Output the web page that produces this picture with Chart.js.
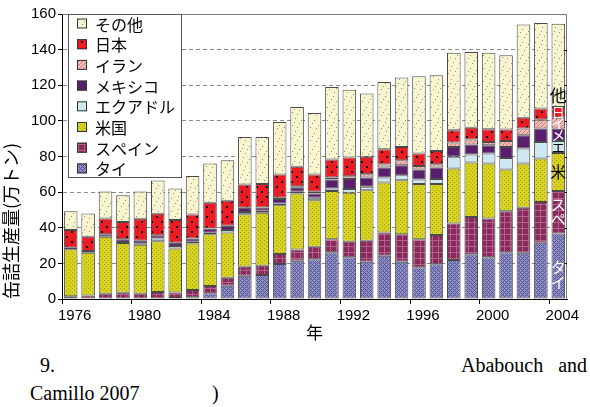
<!DOCTYPE html>
<html lang="ja">
<head>
<meta charset="utf-8">
<script src="https://cdn.jsdelivr.net/npm/chart.js@4.4.0/dist/chart.umd.min.js"></script>
<style>
  body { margin: 0; background: #fff; }
  #wrap { position: relative; width: 590px; height: 407px; }
  #chart { position: absolute; left: 0; top: 0; }
  .cap { position: absolute; font-family: "Liberation Serif", "Times New Roman", serif; font-size: 20px; color: #000; white-space: nowrap; }
</style>
</head>
<body>
<div id="wrap">
  <canvas id="chart" width="590" height="345"></canvas>
  <div class="cap" style="left:40px; top:354px;">9.</div>
  <div class="cap" style="left:461px; top:354px;">Ababouch&nbsp;&nbsp;&nbsp;and</div>
  <div class="cap" style="left:30px; top:382px;">Camillo 2007</div>
  <div class="cap" style="left:212px; top:382px;">)</div>
</div>
<script>
// 缶詰生産量（万トン）by country, 1976-2004
const years = [];
for (let y = 1976; y <= 2004; y++) years.push(String(y));

const thai    = [0, 0, 0, 0, 0, 0, 0.5, 1, 3.2, 7.5, 13.1, 13.5, 19.6, 21.5, 22.3, 26.2, 23.4, 20.9, 24.3, 20.9, 17.8, 19.5, 21.9, 25.1, 23.4, 26.2, 26, 31.6, 36.8];
const spain   = [1.5, 2, 3, 3.5, 3, 4, 3.2, 4, 4.1, 4.4, 5, 5.2, 5.6, 6.3, 7, 7.4, 8.7, 11.8, 13.1, 15.4, 15.8, 16.4, 20.5, 21, 21.8, 23.1, 25.2, 22.9, 23.9];
const usa     = [26.5, 24, 32, 28, 27.5, 28.4, 24.7, 26.2, 29, 25.5, 29.5, 29.7, 27.5, 31.4, 26.2, 27.1, 27.5, 28.4, 28, 30.4, 30.9, 28.6, 30.9, 30.5, 30.9, 23.4, 24.9, 24.4, 21.3];
const ecuador = [0, 0, 0, 0.5, 0.5, 1.5, 1.3, 0.9, 0.9, 1.3, 1.3, 1.1, 0.9, 1, 1.3, 1.3, 2.2, 1.9, 2.8, 2.8, 2.6, 2.8, 6.5, 4.5, 5.6, 6.5, 8.4, 9.3, 6.7];
const mexico  = [0.8, 1, 1.4, 1.5, 1.7, 1.9, 1.9, 1.9, 2.4, 2.4, 2.3, 1.9, 2.5, 2.2, 2.4, 5.1, 5.6, 5.2, 5.6, 5.6, 5.6, 6.5, 5.6, 5.6, 4.6, 6.2, 7.4, 7.5, 7];
const iran    = [0, 0, 0, 0, 0, 0, 0, 0, 0, 0, 0, 0, 0.7, 0.9, 1, 1.1, 1.5, 1.9, 1.7, 2.8, 1.9, 1.9, 2.4, 2.8, 1.9, 3.3, 3.8, 5, 6.1];
const japan   = [10, 8, 8.8, 9.7, 12.3, 12, 12.7, 13.5, 14.4, 14, 13.1, 13.1, 13.1, 10.9, 9.7, 10.1, 10.5, 9.7, 8.6, 7.5, 7.1, 7.4, 6.9, 6.7, 7.1, 6.4, 6.1, 6.2, 6];
const others  = [10.5, 13, 15.2, 15, 15.4, 18.7, 17.7, 21.6, 22.1, 22.8, 26.7, 26.5, 29.5, 33.6, 34.5, 40.7, 38.1, 35.5, 37.7, 38.9, 43.3, 42.5, 43.6, 42.5, 43, 41.7, 52.3, 48, 46.7];

const seriesNames = ["タイ", "スペイン", "米国", "エクアドル", "メキシコ", "イラン", "日本", "その他"];
const shortNames  = ["タイ", "スペ", "米", "エ", "メ", "イ", "日", "他"];
const yTicks = [0, 20, 40, 60, 80, 100, 120, 140, 160];

const JP = '"Noto Sans CJK JP", "Noto Sans", sans-serif';
const LAT = '"Liberation Sans", Arial, sans-serif';

// small tiled fills for the bar textures
function makePattern(w, h, base, paint) {
  const c = document.createElement("canvas");
  c.width = w; c.height = h;
  const g = c.getContext("2d");
  g.fillStyle = base;
  g.fillRect(0, 0, w, h);
  if (paint) paint(g);
  return g.createPattern(c, "repeat");
}
function px(g, color, pts) {
  g.fillStyle = color;
  pts.forEach(p => g.fillRect(p[0], p[1], p[2] || 1, p[3] || 1));
}

const fills = [
  // タイ: fine blue crosshatch
  makePattern(4, 4, "#9090c8", g => {
    const pts = [];
    for (let x = 0; x < 4; x++) for (let y = 0; y < 4; y++) {
      if ((x + y) % 4 === 0 || (x - y + 4) % 4 === 0) pts.push([x, y]);
    }
    px(g, "#55558f", pts);
  }),
  // スペイン: magenta plaid
  makePattern(6, 6, "#8a2a5c", g => {
    px(g, "#b0628a", [[0, 0, 6, 1], [0, 0, 1, 6]]);
  }),
  // 米国: yellow stipple
  makePattern(4, 4, "#d8d31f", g => {
    px(g, "#a39d10", [[0, 0], [2, 2]]);
  }),
  // エクアドル
  "#cde8f0",
  // メキシコ
  "#5a1f6c",
  // イラン: pink diagonal hatch
  makePattern(4, 4, "#f2bcb6", g => {
    px(g, "#d47c7c", [[0, 3], [1, 2], [2, 1], [3, 0]]);
  }),
  // 日本: red with black dots
  makePattern(10, 10, "#ec1c24", g => {
    px(g, "#111", [[1, 1, 2, 2], [6, 6, 2, 2]]);
  }),
  // その他: cream with sparse specks
  makePattern(13, 13, "#f9f6cf", g => {
    px(g, "#8f8c78", [[2, 3], [9, 1], [6, 8], [11, 10], [4, 11], [0, 6], [8, 5]]);
  })
];

const values = [thai, spain, usa, ecuador, mexico, iran, japan, others];

// legend box in the upper-left corner of the plot
const boxLegend = {
  id: "boxLegend",
  afterDatasetsDraw(chart) {
    const { ctx, chartArea } = chart;
    const x0 = chartArea.left + 6, y0 = chartArea.top, w = 114, h = 164;
    ctx.save();
    ctx.fillStyle = "#fff";
    ctx.fillRect(x0, y0, w, h);
    ctx.strokeStyle = "#555";
    ctx.lineWidth = 1;
    ctx.strokeRect(x0 + 0.5, y0 + 0.5, w - 1, h - 1);
    ctx.font = "16px " + JP;
    ctx.textBaseline = "middle";
    const ds = chart.data.datasets.slice().reverse();
    ds.forEach((d, i) => {
      const cy = y0 + 9.5 + i * 20.7;
      ctx.fillStyle = d.backgroundColor;
      ctx.fillRect(x0 + 9, cy - 5, 10, 10);
      ctx.strokeStyle = "#333";
      ctx.strokeRect(x0 + 9.5, cy - 4.5, 9, 9);
      ctx.fillStyle = "#000";
      ctx.fillText(d.label, x0 + 27, cy + 1);
    });
    ctx.restore();
  }
};

// short names written inside the last bar's segments
const lastBarNames = {
  id: "lastBarNames",
  afterDatasetsDraw(chart) {
    const { ctx } = chart;
    const last = years.length - 1;
    const colors = ["#fff", "#fff", "#000", "#000", "#fff", "#fff", "#fff", "#000"];
    const sizes = [15, 15, 16, 13, 14, 13, 13, 17];
    ctx.save();
    ctx.textAlign = "center";
    ctx.textBaseline = "middle";
    chart.data.datasets.forEach((d, i) => {
      const bar = chart.getDatasetMeta(i).data[last];
      let cy = (bar.y + bar.base) / 2;
      if (i === 7) cy = bar.base - 11;
      if (i === 0) cy = bar.base - 24;
      ctx.fillStyle = colors[i];
      ctx.font = sizes[i] + "px " + JP;
      const chars = Array.from(shortNames[i]);
      const step = sizes[i];
      chars.forEach((ch, k) => {
        ctx.fillText(ch, bar.x, cy + (k - (chars.length - 1) / 2) * step);
      });
    });
    ctx.restore();
  }
};

// grey frame on the top and right of the plot
const plotFrame = {
  id: "plotFrame",
  beforeDatasetsDraw(chart) {
    const { ctx, chartArea: a } = chart;
    ctx.save();
    ctx.strokeStyle = "#7a7a7a";
    ctx.lineWidth = 1;
    ctx.beginPath();
    ctx.moveTo(Math.round(a.left) + 0.5, Math.round(a.top) + 0.5);
    ctx.lineTo(Math.round(a.right) - 0.5, Math.round(a.top) + 0.5);
    ctx.lineTo(Math.round(a.right) - 0.5, Math.round(a.bottom));
    ctx.stroke();
    ctx.strokeStyle = "#000";
    for (const v of yTicks) {
      if (v === 0 || v === 160) continue;
      const y = Math.round(chart.scales.y.getPixelForValue(v)) + 0.5;
      ctx.beginPath();
      ctx.moveTo(a.right - 4, y);
      ctx.lineTo(a.right, y);
      ctx.stroke();
    }
    ctx.restore();
  }
};

new Chart(document.getElementById("chart"), {
  type: "bar",
  data: {
    labels: years,
    datasets: values.map((v, i) => ({
      label: seriesNames[i],
      data: v,
      backgroundColor: fills[i],
      borderColor: "#4a4a4a",
      borderWidth: 1,
      borderSkipped: false,
      barPercentage: 0.78,
      categoryPercentage: 1
    }))
  },
  options: {
    responsive: false,
    animation: false,
    devicePixelRatio: 1,
    layout: { padding: { top: 14, right: 23, left: 0, bottom: 0 } },
    plugins: {
      legend: { display: false },
      tooltip: { enabled: false }
    },
    scales: {
      x: {
        stacked: true,
        afterFit: s => { s.height = 46; },
        border: { color: "#000", width: 1 },
        grid: {
          offset: true,
          drawOnChartArea: false,
          tickLength: 5,
          color: c => (c.index % 4 === 0 ? "#000" : "transparent")
        },
        ticks: {
          autoSkip: false,
          maxRotation: 0,
          labelOffset: 4,
          padding: 3,
          color: "#000",
          font: { family: LAT, size: 15 },
          callback: (v, i) => (i % 4 === 0 ? years[i] : "")
        },
        title: {
          display: true,
          text: "年",
          color: "#000",
          font: { family: JP, size: 17 },
          padding: { top: 0, bottom: 2 }
        }
      },
      y: {
        stacked: true,
        min: 0,
        max: 160,
        afterFit: s => { s.width = 62; },
        afterBuildTicks: s => { s.ticks = yTicks.map(v => ({ value: v })); },
        border: { color: "#000", width: 1, dash: [4, 3] },
        grid: {
          color: c => (c.tick && (c.tick.value === 0 || c.tick.value === 160) ? "transparent" : "#8a8a8a"),
          tickColor: "#000",
          tickLength: 4
        },
        ticks: {
          padding: 2,
          color: "#000",
          font: { family: LAT, size: 15 }
        },
        title: {
          display: true,
          text: "缶詰生産量(万トン)",
          align: "start",
          color: "#000",
          font: { family: JP, size: 18 },
          padding: { top: 0, bottom: 0 }
        }
      }
    }
  },
  plugins: [plotFrame, boxLegend, lastBarNames]
});
</script>
</body>
</html>
